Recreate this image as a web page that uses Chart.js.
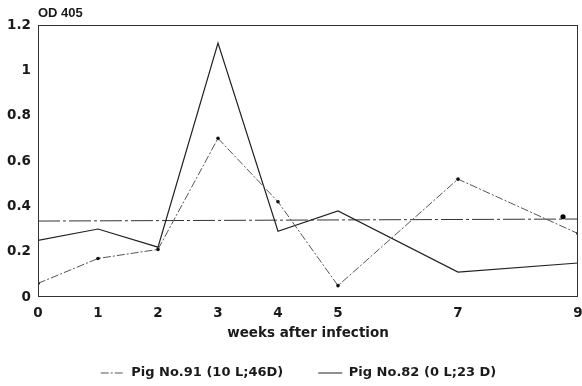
<!DOCTYPE html>
<html>
<head>
<meta charset="utf-8">
<script src="https://cdn.jsdelivr.net/npm/chart.js@4"></script>
<style>
  html, body { margin: 0; padding: 0; background: #fff; }
  #wrap { width: 582px; height: 386px; }
</style>
</head>
<body>
<div id="wrap"><canvas id="chart" width="582" height="386"></canvas></div>
<script>
// Data
const weeks = [0, 1, 2, 3, 4, 5, 7, 9];
const pig91 = [0.06, 0.17, 0.21, 0.70, 0.42, 0.05, 0.52, 0.28];
const pig82 = [0.25, 0.30, 0.22, 1.12, 0.29, 0.38, 0.11, 0.15];
const cutoffWeeks = [0, 9];
const cutoffValues = [0.335, 0.344];
const markWeek = [8.75];
const markValue = [0.354];
const xTicks = [0, 1, 2, 3, 4, 5, 7, 9];

const fontFamily = "'DejaVu Sans', 'Liberation Sans', sans-serif";
const axisFont = { family: fontFamily, size: 13.5, weight: 'bold' };
const legendFont = { family: fontFamily, size: 13, weight: 'bold' };
const ink = '#1a1a1a';

// Zip x and y arrays into points
function toPoints(xs, ys) {
  return xs.map((x, i) => ({ x: x, y: ys[i] }));
}

// Box round the plot and the axis unit on top
const framePlugin = {
  id: 'frame',
  afterLayout(chart) {
    // legend sits a little right of centre in the figure
    if (chart.legend) {
      chart.legend.left += 9;
      chart.legend.right += 9;
    }
  },
  afterDatasetsDraw(chart) {
    const { ctx, chartArea } = chart;
    ctx.save();
    ctx.strokeStyle = '#333';
    ctx.lineWidth = 1;
    ctx.strokeRect(chartArea.left + 0.5, chartArea.top + 0.5, chartArea.width - 1, chartArea.height - 1);
    ctx.fillStyle = ink;
    ctx.font = "bold 13px 'Liberation Sans', Arial, sans-serif";
    ctx.textBaseline = 'middle';
    ctx.textAlign = 'left';
    ctx.fillText('OD 405', chartArea.left, 13);
    ctx.restore();
  }
};

// Legend entries use the line style of each series
function legendLabels(chart) {
  const items = Chart.defaults.plugins.legend.labels.generateLabels(chart);
  return items.filter((item) => item.datasetIndex < 2).map((item) => {
    const ds = chart.data.datasets[item.datasetIndex];
    item.lineWidth = ds.borderWidth;
    item.strokeStyle = ds.borderColor;
    item.lineDash = ds.borderDash || [];
    return item;
  });
}

new Chart(document.getElementById('chart'), {
  type: 'line',
  data: {
    datasets: [
      {
        label: 'Pig No.91 (10 L;46D)',
        data: toPoints(weeks, pig91),
        borderColor: '#555',
        borderWidth: 1,
        borderDash: [8, 2, 2, 2],
        pointRadius: 1.8,
        pointBackgroundColor: '#111',
        pointBorderWidth: 0,
        tension: 0
      },
      {
        label: 'Pig No.82 (0 L;23 D)',
        data: toPoints(weeks, pig82),
        borderColor: '#222',
        borderWidth: 1.2,
        pointRadius: 0,
        tension: 0
      },
      {
        label: 'cutoff',
        data: toPoints(cutoffWeeks, cutoffValues),
        borderColor: '#333',
        borderWidth: 1,
        borderDash: [22, 3, 3, 3],
        pointRadius: 0
      },
      {
        label: 'mark',
        type: 'scatter',
        data: toPoints(markWeek, markValue),
        pointRadius: 2.6,
        pointBackgroundColor: '#000',
        pointBorderWidth: 0
      }
    ]
  },
  options: {
    responsive: false,
    animation: false,
    layout: { padding: { top: 25, right: 3, left: 0, bottom: -3.5 } },
    plugins: {
      tooltip: { enabled: false },
      legend: {
        position: 'bottom',
        labels: {
          generateLabels: legendLabels,
          usePointStyle: true,
          pointStyle: 'line',
          pointStyleWidth: 24,
          boxWidth: 24,
          padding: 35,
          color: ink,
          font: legendFont
        }
      }
    },
    scales: {
      x: {
        type: 'linear',
        min: 0,
        max: 9,
        afterBuildTicks: (scale) => {
          scale.ticks = xTicks.map((v) => ({ value: v }));
        },
        afterFit: (scale) => {
          scale.height = 34.5;
          scale.paddingLeft = 0;
          scale.paddingRight = 0;
        },
        grid: { display: false, drawTicks: false },
        border: { display: false },
        ticks: { color: ink, font: axisFont, padding: 8, maxRotation: 0, autoSkip: false },
        title: {
          display: true,
          text: 'weeks after infection',
          color: ink,
          font: axisFont,
          padding: { top: 0, bottom: -9.6 }
        }
      },
      y: {
        min: 0,
        max: 1.2,
        afterFit: (scale) => { scale.width = 38; },
        grid: { display: false, drawTicks: false },
        border: { display: false },
        ticks: {
          stepSize: 0.2,
          color: ink,
          font: axisFont,
          padding: 7,
          callback: (v) => String(Math.round(v * 10) / 10)
        }
      }
    }
  },
  plugins: [framePlugin]
});
</script>
</body>
</html>
